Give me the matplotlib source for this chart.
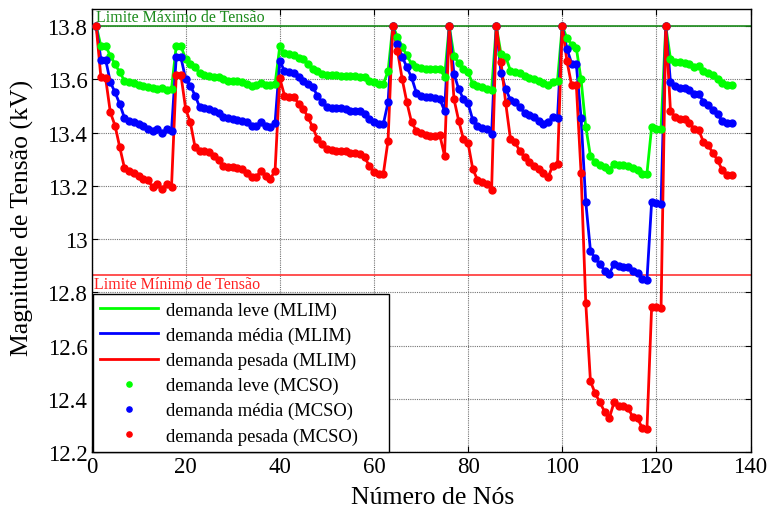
# Perfil de tensao nos nos: MLIM x MCSO, tres niveis de demanda

import numpy as np
from matplotlib import pyplot as plt
from matplotlib.ticker import FormatStrFormatter

plt.rcParams['font.family'] = ['Liberation Serif', 'DejaVu Serif']
plt.rcParams['axes.linewidth'] = 1.0
plt.rcParams['xtick.direction'] = 'in'
plt.rcParams['ytick.direction'] = 'in'
plt.rcParams['xtick.top'] = True
plt.rcParams['ytick.right'] = True
plt.rcParams['xtick.labelsize'] = 16.5
plt.rcParams['ytick.labelsize'] = 16.5
plt.rcParams['axes.labelsize'] = 18.5

nos = np.arange(1, 137)

leve = [13.800, 13.725, 13.725, 13.689, 13.657, 13.626, 13.595, 13.589, 13.585, 13.580,
        13.576, 13.572, 13.567, 13.564, 13.567, 13.560, 13.564, 13.725, 13.725, 13.676,
        13.657, 13.645, 13.622, 13.617, 13.614, 13.610, 13.607, 13.601, 13.595, 13.595,
        13.592, 13.589, 13.582, 13.576, 13.580, 13.585, 13.580, 13.578, 13.582, 13.724,
        13.697, 13.695, 13.692, 13.680, 13.675, 13.657, 13.639, 13.632, 13.620, 13.617,
        13.617, 13.617, 13.614, 13.614, 13.614, 13.614, 13.610, 13.607, 13.595, 13.589,
        13.582, 13.582, 13.630, 13.800, 13.760, 13.722, 13.690, 13.657, 13.647, 13.643,
        13.640, 13.640, 13.640, 13.638, 13.610, 13.800, 13.689, 13.660, 13.640, 13.626,
        13.582, 13.576, 13.570, 13.564, 13.560, 13.800, 13.695, 13.685, 13.632, 13.626,
        13.622, 13.614, 13.605, 13.601, 13.595, 13.585, 13.580, 13.589, 13.595, 13.800,
        13.755, 13.730, 13.717, 13.600, 13.422, 13.311, 13.290, 13.277, 13.269, 13.261,
        13.281, 13.277, 13.277, 13.274, 13.265, 13.261, 13.246, 13.246, 13.421, 13.415,
        13.415, 13.800, 13.677, 13.665, 13.665, 13.661, 13.656, 13.646, 13.649, 13.631,
        13.624, 13.615, 13.602, 13.586, 13.578, 13.578]

media = [13.800, 13.674, 13.674, 13.589, 13.551, 13.507, 13.455, 13.445, 13.438, 13.432,
         13.426, 13.413, 13.407, 13.413, 13.397, 13.413, 13.407, 13.682, 13.682, 13.601,
         13.576, 13.539, 13.495, 13.491, 13.489, 13.482, 13.472, 13.457, 13.455, 13.451,
         13.447, 13.445, 13.438, 13.426, 13.423, 13.438, 13.425, 13.420, 13.437, 13.670,
         13.630, 13.626, 13.622, 13.607, 13.595, 13.582, 13.570, 13.539, 13.513, 13.495,
         13.492, 13.492, 13.491, 13.489, 13.482, 13.482, 13.480, 13.470, 13.451, 13.438,
         13.432, 13.432, 13.513, 13.800, 13.732, 13.685, 13.645, 13.607, 13.550, 13.537,
         13.532, 13.532, 13.530, 13.525, 13.482, 13.800, 13.620, 13.564, 13.526, 13.510,
         13.447, 13.426, 13.416, 13.413, 13.395, 13.800, 13.622, 13.564, 13.522, 13.513,
         13.497, 13.472, 13.467, 13.457, 13.442, 13.432, 13.438, 13.457, 13.455, 13.800,
         13.715, 13.659, 13.656, 13.456, 13.140, 12.956, 12.927, 12.906, 12.881, 12.869,
         12.906, 12.899, 12.896, 12.894, 12.878, 12.871, 12.849, 12.846, 13.140, 13.134,
         13.131, 13.800, 13.590, 13.574, 13.569, 13.569, 13.559, 13.544, 13.546, 13.515,
         13.502, 13.486, 13.469, 13.444, 13.434, 13.434]

pesada = [13.800, 13.607, 13.604, 13.476, 13.426, 13.345, 13.267, 13.257, 13.247, 13.238,
          13.226, 13.220, 13.195, 13.207, 13.188, 13.207, 13.197, 13.616, 13.616, 13.489,
          13.438, 13.345, 13.332, 13.332, 13.326, 13.313, 13.295, 13.276, 13.272, 13.270,
          13.267, 13.263, 13.247, 13.232, 13.232, 13.257, 13.238, 13.226, 13.257, 13.604,
          13.539, 13.535, 13.535, 13.507, 13.489, 13.457, 13.420, 13.376, 13.357, 13.338,
          13.335, 13.332, 13.332, 13.330, 13.322, 13.322, 13.320, 13.307, 13.276, 13.251,
          13.245, 13.245, 13.370, 13.800, 13.707, 13.601, 13.513, 13.438, 13.407, 13.397,
          13.390, 13.386, 13.386, 13.390, 13.313, 13.800, 13.526, 13.445, 13.376, 13.360,
          13.263, 13.222, 13.213, 13.207, 13.185, 13.800, 13.664, 13.510, 13.376, 13.363,
          13.330, 13.307, 13.289, 13.276, 13.263, 13.247, 13.232, 13.276, 13.280, 13.800,
          13.669, 13.578, 13.578, 13.249, 12.761, 12.465, 12.421, 12.386, 12.352, 12.327,
          12.386, 12.374, 12.371, 12.365, 12.331, 12.327, 12.290, 12.286, 12.746, 12.746,
          12.740, 13.800, 13.481, 13.459, 13.449, 13.449, 13.436, 13.415, 13.409, 13.365,
          13.352, 13.324, 13.296, 13.259, 13.240, 13.240]

# os dois metodos dao praticamente o mesmo perfil
mcso_leve, mcso_media, mcso_pesada = leve, media, pesada

v_max = 13.8
v_min = 12.866

fig = plt.figure(figsize=(7.69, 5.10), dpi=100)
ax = fig.add_axes([91.5 / 769, 57 / 510, 659 / 769, 443 / 510])

ax.axhline(v_max, color='#1a8a1a', linewidth=1.2, zorder=2)
ax.axhline(v_min, color='#ff3333', linewidth=1.2, zorder=2)
ax.text(1.0, v_max + 0.004, 'Limite Máximo de Tensão', color='#1a8a1a',
        fontsize=11.5, va='bottom', ha='left')
ax.text(0.6, v_min - 0.006, 'Limite Mínimo de Tensão', color='#ff2020',
        fontsize=11.5, va='top', ha='left')

ax.plot(nos, leve, color='#00ff00', linewidth=2, label='demanda leve (MLIM)', zorder=3)
ax.plot(nos, media, color='#0000ff', linewidth=2, label='demanda média (MLIM)', zorder=3)
ax.plot(nos, pesada, color='#ff0000', linewidth=2, label='demanda pesada (MLIM)', zorder=3)
ax.plot(nos, mcso_leve, '.', color='#00ff00', markersize=10, label='demanda leve (MCSO)', zorder=4)
ax.plot(nos, mcso_media, '.', color='#0000ff', markersize=10, label='demanda média (MCSO)', zorder=4)
ax.plot(nos, mcso_pesada, '.', color='#ff0000', markersize=10, label='demanda pesada (MCSO)', zorder=4)

ax.set_xlim(0, 140)
ax.set_ylim(12.2, 13.864)
ax.set_xticks(np.arange(0, 141, 20))
ax.set_yticks(np.arange(12.2, 13.81, 0.2))
ax.yaxis.set_major_formatter(FormatStrFormatter('%g'))
ax.tick_params(length=4, width=0.8, pad=3)
ax.grid(True, color='0.45', linestyle=(0, (1, 1)), linewidth=0.8)
ax.set_axisbelow(True)

ax.set_xlabel('Número de Nós')
ax.set_ylabel('Magnitude de Tensão (kV)')
ax.xaxis.set_label_coords(0.518, -0.0767)
ax.yaxis.set_label_coords(-0.0873, 0.53)

leg = ax.legend(loc='lower left', bbox_to_anchor=(0.002, 0.0, 0.45, 0.36), mode='expand',
                borderaxespad=0, fancybox=False, edgecolor='black', framealpha=1,
                fontsize=13.4, handlelength=3.1, handletextpad=0.45, labelspacing=0.42,
                numpoints=1, markerscale=0.75, borderpad=0.4)
leg.get_frame().set_linewidth(1.0)
leg.set_zorder(10)

plt.savefig('out.png', dpi=100)
